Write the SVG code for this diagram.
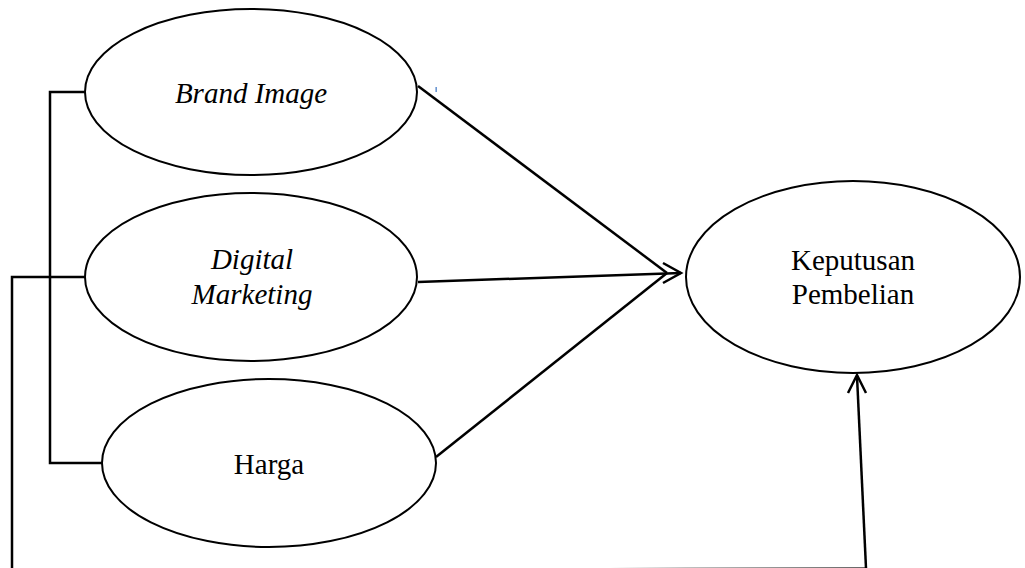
<svg xmlns="http://www.w3.org/2000/svg" width="1025" height="568" viewBox="0 0 1025 568">
<defs>
<linearGradient id="fade" x1="610" y1="0" x2="866" y2="0" gradientUnits="userSpaceOnUse">
<stop offset="0" stop-color="#000" stop-opacity="0"/>
<stop offset="0.3" stop-color="#000" stop-opacity="0.25"/>
<stop offset="1" stop-color="#000" stop-opacity="0.6"/>
</linearGradient>
</defs>
<style>
.node ellipse{fill:#fff;stroke:#000;stroke-width:2}
.lbl{font-family:"Liberation Serif","Times New Roman",serif;font-size:29px;fill:#000;text-anchor:middle}
.it{font-style:italic}
.conn{fill:none;stroke:#000;stroke-width:2.5;stroke-linecap:butt;stroke-linejoin:miter}
</style>
<rect width="1025" height="568" fill="#fff"/>
<g id="connectors">
<polyline class="conn" points="85,92 50,92 50,463 103,463"/>
<polyline class="conn" points="85,277 12,277 12,568"/>
<line x1="560" y1="567.5" x2="866" y2="567.5" stroke="url(#fade)" stroke-width="1"/>
<line class="conn" x1="866" y1="568" x2="857" y2="376"/>
<line class="conn" x1="418" y1="86" x2="667" y2="273"/>
<line class="conn" x1="418" y1="282" x2="681" y2="273"/>
<line class="conn" x1="436" y1="457" x2="667" y2="273"/>
<polyline class="conn" points="663,263 681,273 663,283"/>
<polyline class="conn" points="848,393 857,375 866,393"/>
</g>
<rect x="435.5" y="87" width="1.3" height="5" fill="#4a7fc8"/>
<g id="brand-image" class="node">
<ellipse cx="251" cy="92" rx="166" ry="83"/>
<text class="lbl it" x="251" y="103">Brand Image</text>
</g>
<g id="digital-marketing" class="node">
<ellipse cx="251" cy="277" rx="166" ry="84"/>
<text class="lbl it" x="252" y="269">Digital</text>
<text class="lbl it" x="252" y="304">Marketing</text>
</g>
<g id="harga" class="node">
<ellipse cx="269" cy="463" rx="167" ry="84"/>
<text class="lbl" x="269" y="474">Harga</text>
</g>
<g id="keputusan-pembelian" class="node">
<ellipse cx="853" cy="277" rx="167" ry="96"/>
<text class="lbl" x="853" y="270">Keputusan</text>
<text class="lbl" x="853" y="304">Pembelian</text>
</g>
</svg>
